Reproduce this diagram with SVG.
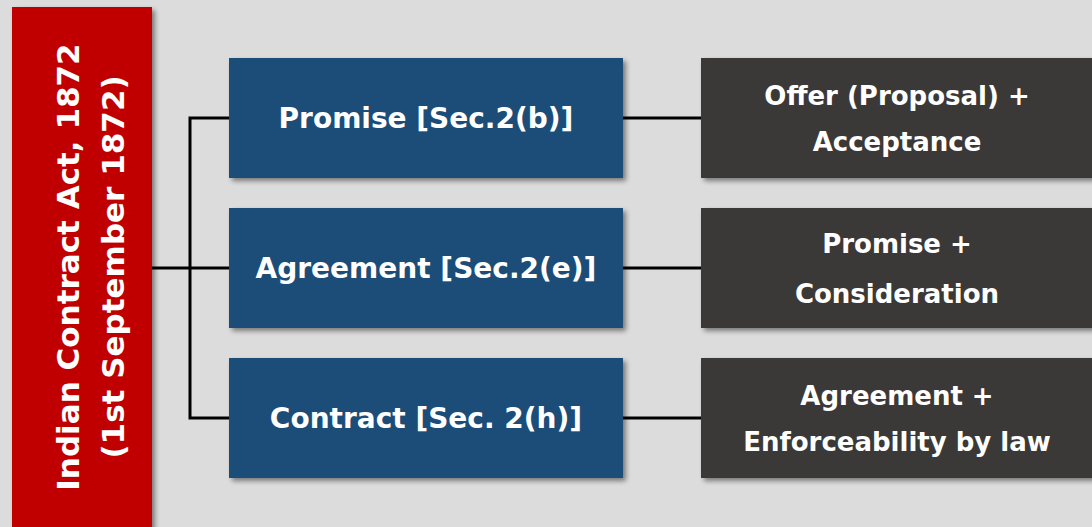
<svg xmlns="http://www.w3.org/2000/svg" width="1092" height="527" viewBox="0 0 1092 527">
<defs>
<filter id="sh" x="-10%" y="-10%" width="130%" height="130%">
<feGaussianBlur in="SourceAlpha" stdDeviation="2.5"/>
<feOffset dx="3" dy="3" result="b"/>
<feComponentTransfer><feFuncA type="linear" slope="0.45"/></feComponentTransfer>
<feMerge><feMergeNode/><feMergeNode in="SourceGraphic"/></feMerge>
</filter>
</defs>
<style>
.t{font-family:"DejaVu Sans","Liberation Sans",sans-serif;font-weight:bold;fill:#fff;text-anchor:middle;}
.red{fill:#C00000;}
.blue{fill:#1F4E79;}
.dark{fill:#3A3838;}
.c{stroke:#000;stroke-width:3;fill:none;}
</style>
<rect width="1092" height="527" fill="#DCDCDC"/>
<g id="connectors">
<path class="c" d="M152,268 H229"/>
<path class="c" d="M229,118 H190 V418 H229"/>
<path class="c" d="M623,118 H701"/>
<path class="c" d="M623,268 H701"/>
<path class="c" d="M623,418 H701"/>
</g>
<g id="act">
<rect class="red" x="12" y="7" width="140" height="530" filter="url(#sh)"/>
<text class="t" font-size="31" transform="translate(79,267) rotate(-90)">Indian Contract Act, 1872</text>
<text class="t" font-size="31" transform="translate(124,267) rotate(-90)">(1st September 1872)</text>
</g>
<g id="promise">
<rect class="blue" x="229" y="58" width="394" height="120" filter="url(#sh)"/>
<text class="t" font-size="28" x="426" y="128">Promise [Sec.2(b)]</text>
</g>
<g id="agreement">
<rect class="blue" x="229" y="208" width="394" height="120" filter="url(#sh)"/>
<text class="t" font-size="28" x="426" y="278">Agreement [Sec.2(e)]</text>
</g>
<g id="contract">
<rect class="blue" x="229" y="358" width="394" height="120" filter="url(#sh)"/>
<text class="t" font-size="28" x="426" y="428">Contract [Sec. 2(h)]</text>
</g>
<g id="offer">
<rect class="dark" x="701" y="58" width="400" height="120" filter="url(#sh)"/>
<text class="t" font-size="26" x="897" y="105">Offer (Proposal) +</text>
<text class="t" font-size="26" x="897" y="151">Acceptance</text>
</g>
<g id="promise-consideration">
<rect class="dark" x="701" y="208" width="400" height="120" filter="url(#sh)"/>
<text class="t" font-size="26" x="897" y="253">Promise +</text>
<text class="t" font-size="26" x="897" y="303">Consideration</text>
</g>
<g id="agreement-enforce">
<rect class="dark" x="701" y="358" width="400" height="120" filter="url(#sh)"/>
<text class="t" font-size="26" x="897" y="405">Agreement +</text>
<text class="t" font-size="26" x="897" y="451">Enforceability by law</text>
</g>
</svg>
